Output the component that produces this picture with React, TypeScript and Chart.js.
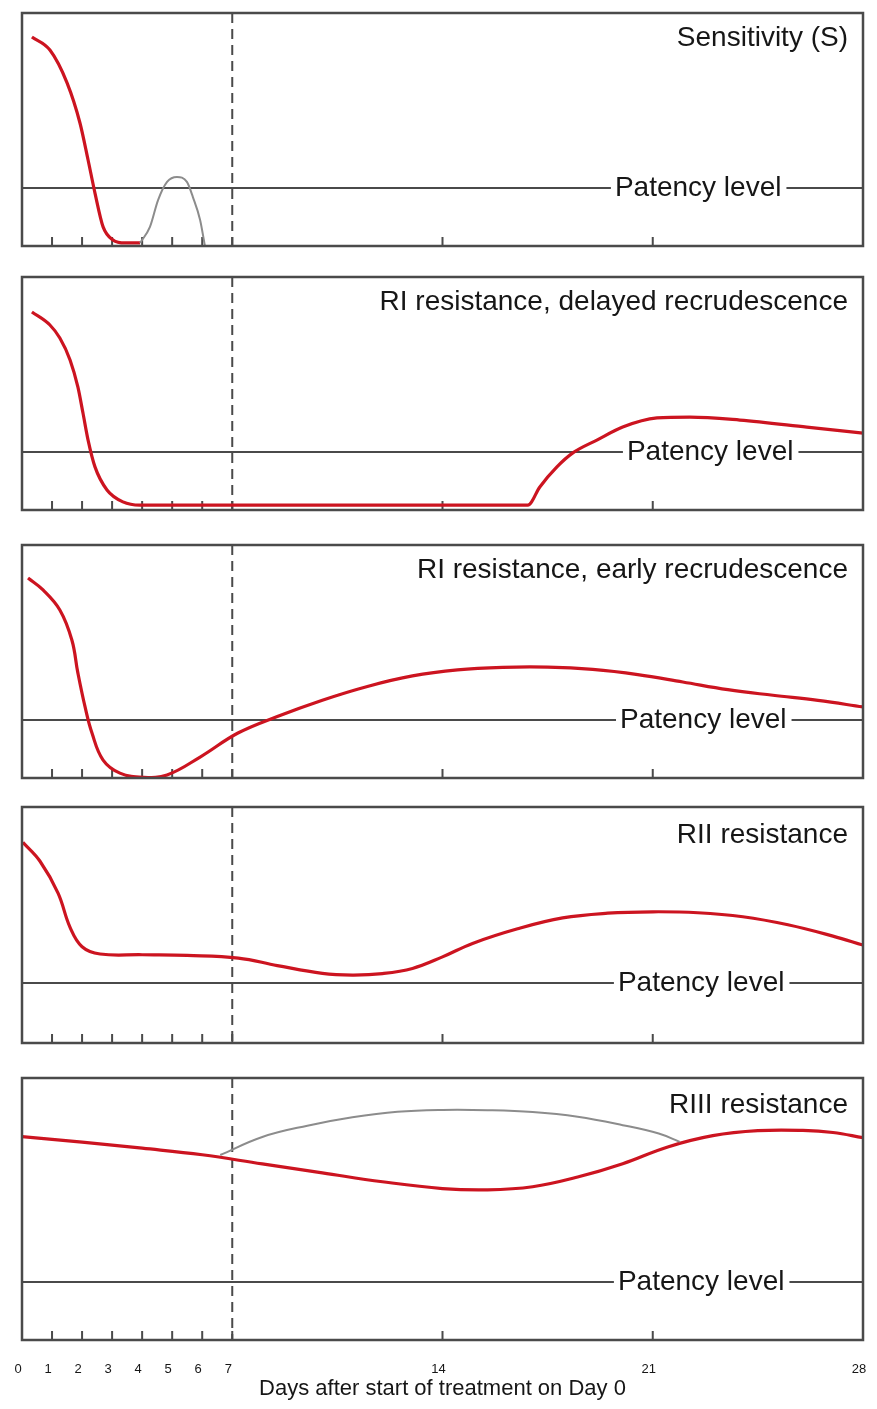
import React, { useEffect, useRef } from "react";
import { Chart, registerables } from "chart.js";

Chart.register(...registerables);

// ---------- text ----------
const PANEL_TITLES = [
  "Sensitivity (S)",
  "RI resistance, delayed recrudescence",
  "RI resistance, early recrudescence",
  "RII resistance",
  "RIII resistance",
];
const PATENCY_LABEL = "Patency level";
const X_TITLE = "Days after start of treatment on Day 0";

// ---------- axis ----------
const DAY_MIN = 0;
const DAY_MAX = 28;
const DAY_TICKS = [0, 1, 2, 3, 4, 5, 6, 7, 14, 21, 28];
const TREATMENT_END_DAY = 7;
const LEVEL_MIN = 0;
const LEVEL_MAX = 100;
const PATENCY_LEVEL = [24.9, 24.9, 24.9, 25.4, 22.1];

// ---------- series (day, parasite level) ----------
// Sensitivity (S)
const S_RED_DAYS = [0.33, 0.93, 1.5, 1.93, 2.2, 2.43, 2.7, 3.03, 3.43, 3.93];
const S_RED_LEVEL = [89.7, 84.1, 70.0, 52.8, 36.9, 22.7, 8.2, 2.6, 1.3, 1.3];
const S_GRAY_DAYS = [3.93, 4.26, 4.53, 4.83, 5.16, 5.49, 5.69, 5.93, 6.09];
const S_GRAY_LEVEL = [1.3, 8.2, 19.7, 27.5, 29.6, 27.5, 21.0, 11.2, 0];

// RI resistance, delayed recrudescence
const RID_RED_DAYS = [0.33, 0.93, 1.26, 1.6, 1.86, 2.03, 2.2, 2.43, 2.83, 3.36, 3.93, 7, 10, 14, 16.84, 17.24, 17.81, 18.34, 19.14, 20.0, 21.14, 22.24, 23.9, 26.13, 28];
const RID_RED_LEVEL = [85.0, 79.4, 73.8, 64.4, 52.8, 41.6, 30.0, 18.5, 8.6, 3.5, 2.1, 2.1, 2.1, 2.1, 2.1, 9.9, 18.5, 24.5, 30.0, 35.6, 39.5, 39.9, 38.6, 35.6, 33.0];

// RI resistance, early recrudescence
const RIE_RED_DAYS = [0.2, 0.7, 1.26, 1.66, 1.86, 2.1, 2.33, 2.7, 3.26, 4.03, 4.83, 5.93, 7.19, 8.5, 10.0, 11.5, 13.0, 14.5, 16.0, 17.5, 19.0, 20.5, 22.0, 23.5, 25.0, 26.5, 28];
const RIE_RED_LEVEL = [85.8, 80.7, 72.1, 59.2, 45.1, 30.5, 19.3, 7.7, 2.1, 0.3, 1.3, 9.0, 19.3, 26.4, 33.4, 39.3, 43.8, 46.4, 47.5, 47.6, 46.6, 44.4, 41.2, 37.9, 35.5, 33.3, 30.5];

// RII resistance
const RII_RED_DAYS = [0.03, 0.6, 1.2, 1.6, 2.0, 2.6, 4.0, 5.5, 7.2, 8.5, 10.0, 11.0, 12.0, 13.0, 14.0, 15.0, 16.5, 18.0, 19.5, 21.0, 22.5, 24.0, 25.5, 27.0, 28];
const RII_RED_LEVEL = [85.0, 77.0, 63.5, 49.0, 40.8, 37.7, 37.4, 37.1, 36.0, 32.8, 29.5, 28.8, 29.4, 31.6, 36.5, 42.2, 48.4, 53.0, 55.0, 55.6, 55.2, 53.5, 50.1, 45.3, 41.5];

// RIII resistance
const RIII_RED_DAYS = [0, 2, 4, 6, 8, 10, 12, 14, 15.5, 17, 18.5, 20, 21.5, 23, 24.5, 26, 27, 28];
const RIII_RED_LEVEL = [77.6, 75.5, 73.2, 70.7, 67.2, 63.8, 60.4, 57.8, 57.3, 58.5, 62.2, 67.3, 73.7, 78.0, 79.9, 80.0, 79.2, 77.2];
const RIII_GRAY_DAYS = [6.6, 8.0, 9.5, 11.0, 12.5, 14.0, 15.5, 17.0, 18.5, 20.0, 21.2, 21.9];
const RIII_GRAY_LEVEL = [70.6, 77.5, 81.8, 85.0, 87.1, 87.8, 87.7, 87.0, 85.2, 82.0, 78.8, 75.6];

const PANEL_SERIES = [
  { red: [S_RED_DAYS, S_RED_LEVEL], gray: [S_GRAY_DAYS, S_GRAY_LEVEL] },
  { red: [RID_RED_DAYS, RID_RED_LEVEL], gray: null },
  { red: [RIE_RED_DAYS, RIE_RED_LEVEL], gray: null },
  { red: [RII_RED_DAYS, RII_RED_LEVEL], gray: null },
  { red: [RIII_RED_DAYS, RIII_RED_LEVEL], gray: [RIII_GRAY_DAYS, RIII_GRAY_LEVEL] },
];

// ---------- layout (pixels) ----------
const PAGE_W = 877;
const PAGE_H = 1409;
const PLOT_LEFT = 22;
const PLOT_RIGHT = 863;
const PANEL_TOP = [13, 277, 545, 807, 1078];
const PANEL_BOTTOM = [246, 510, 778, 1043, 1340];
const TITLE_OFFSET = [33, 33, 33, 36, 35];
const PATENCY_LABEL_DAY = [19.74, 20.14, 19.91, 19.84, 19.84];
const CURVE_MODE = ["monotone", "monotone", "bezier", "bezier", "bezier"];
const PAD = 4;

// ---------- style ----------
const RED = "#cc1420";
const GRAY = "#8c8c8c";
const FRAME = "#4a4a4a";
const TEXT = "#161616";
const FONT = "'Liberation Sans', Arial, sans-serif";

const toPoints = (days: number[], levels: number[]) =>
  days.map((d, i) => ({ x: d, y: levels[i] }));

const panelDecor = {
  id: "panelDecor",
  beforeDatasetsDraw(chart: any, _args: any, opts: any) {
    const { ctx, chartArea: a, scales } = chart;
    const x = scales.x;
    const y = scales.y;
    ctx.save();
    ctx.strokeStyle = FRAME;
    ctx.fillStyle = TEXT;

    // patency line with label
    const py = y.getPixelForValue(opts.patency);
    ctx.font = `28px ${FONT}`;
    const lx = x.getPixelForValue(opts.labelDay);
    const tw = ctx.measureText(PATENCY_LABEL).width;
    ctx.lineWidth = 2;
    ctx.beginPath();
    ctx.moveTo(a.left, py);
    ctx.lineTo(lx - 4, py);
    ctx.moveTo(lx + tw + 5, py);
    ctx.lineTo(a.right, py);
    ctx.stroke();
    ctx.textAlign = "left";
    ctx.textBaseline = "alphabetic";
    ctx.fillText(PATENCY_LABEL, lx, py + 8);

    // end-of-treatment dashed line
    const dx = x.getPixelForValue(TREATMENT_END_DAY);
    ctx.setLineDash([10, 6]);
    ctx.lineWidth = 2;
    ctx.beginPath();
    ctx.moveTo(dx, a.top);
    ctx.lineTo(dx, a.bottom);
    ctx.stroke();
    ctx.setLineDash([]);

    // inner tick marks
    ctx.lineWidth = 2;
    ctx.beginPath();
    for (const d of DAY_TICKS) {
      if (d === DAY_MIN || d === DAY_MAX) continue;
      const tx = x.getPixelForValue(d);
      ctx.moveTo(tx, a.bottom);
      ctx.lineTo(tx, a.bottom - 9);
    }
    ctx.stroke();

    // title
    ctx.font = `28px ${FONT}`;
    ctx.textAlign = "right";
    ctx.fillText(opts.title, a.right - 15, a.top + opts.titleOffset);
    ctx.restore();
  },
  afterDatasetsDraw(chart: any, _args: any, opts: any) {
    const { ctx, chartArea: a, scales } = chart;
    const x = scales.x;
    ctx.save();
    ctx.strokeStyle = FRAME;
    ctx.lineWidth = 2.5;
    ctx.strokeRect(a.left, a.top, a.right - a.left, a.bottom - a.top);
    if (opts.showAxis) {
      ctx.fillStyle = TEXT;
      ctx.font = `13px ${FONT}`;
      ctx.textAlign = "center";
      ctx.textBaseline = "alphabetic";
      for (const d of DAY_TICKS) {
        ctx.fillText(String(d), x.getPixelForValue(d) - 4, a.bottom + 33);
      }
      ctx.font = `22px ${FONT}`;
      ctx.fillText(X_TITLE, (a.left + a.right) / 2, a.bottom + 55);
    }
    ctx.restore();
  },
};

function curveStyle(mode: string) {
  return mode === "monotone"
    ? { cubicInterpolationMode: "monotone" }
    : { cubicInterpolationMode: "default", tension: 0.4 };
}

function Panel({ index }: { index: number }) {
  const ref = useRef<HTMLCanvasElement | null>(null);
  const isLast = index === PANEL_TITLES.length - 1;
  const top = PANEL_TOP[index] - PAD;
  const plotH = PANEL_BOTTOM[index] - PANEL_TOP[index];
  const height = isLast ? PAGE_H - top : plotH + 2 * PAD;
  const padBottom = height - PAD - plotH;

  useEffect(() => {
    if (!ref.current) return;
    const s = PANEL_SERIES[index];
    const cs = curveStyle(CURVE_MODE[index]);
    const datasets: any[] = [];
    if (s.gray) {
      datasets.push({
        data: toPoints(s.gray[0], s.gray[1]),
        borderColor: GRAY,
        borderWidth: 2,
        pointRadius: 0,
        fill: false,
        ...cs,
      });
    }
    datasets.push({
      data: toPoints(s.red[0], s.red[1]),
      borderColor: RED,
      borderWidth: 3.2,
      pointRadius: 0,
      fill: false,
      ...cs,
    });
    const chart = new Chart(ref.current, {
      type: "line",
      data: { datasets },
      options: {
        responsive: false,
        animation: false,
        devicePixelRatio: 1,
        layout: {
          padding: {
            left: PLOT_LEFT,
            right: PAGE_W - PLOT_RIGHT,
            top: PAD,
            bottom: padBottom,
          },
        },
        scales: {
          x: { type: "linear", min: DAY_MIN, max: DAY_MAX, display: false },
          y: { type: "linear", min: LEVEL_MIN, max: LEVEL_MAX, display: false },
        },
        plugins: {
          legend: { display: false },
          tooltip: { enabled: false },
          panelDecor: {
            title: PANEL_TITLES[index],
            titleOffset: TITLE_OFFSET[index],
            patency: PATENCY_LEVEL[index],
            labelDay: PATENCY_LABEL_DAY[index],
            showAxis: isLast,
          },
        } as any,
      },
      plugins: [panelDecor as any],
    });
    return () => chart.destroy();
  }, [index]);

  return (
    <canvas
      ref={ref}
      width={PAGE_W}
      height={height}
      style={{ position: "absolute", left: 0, top, width: PAGE_W, height }}
    />
  );
}

export default function App() {
  return (
    <div
      style={{
        position: "absolute",
        left: 0,
        top: 0,
        width: PAGE_W,
        height: PAGE_H,
        background: "#ffffff",
      }}
    >
      {PANEL_TITLES.map((_, i) => (
        <Panel key={i} index={i} />
      ))}
    </div>
  );
}
